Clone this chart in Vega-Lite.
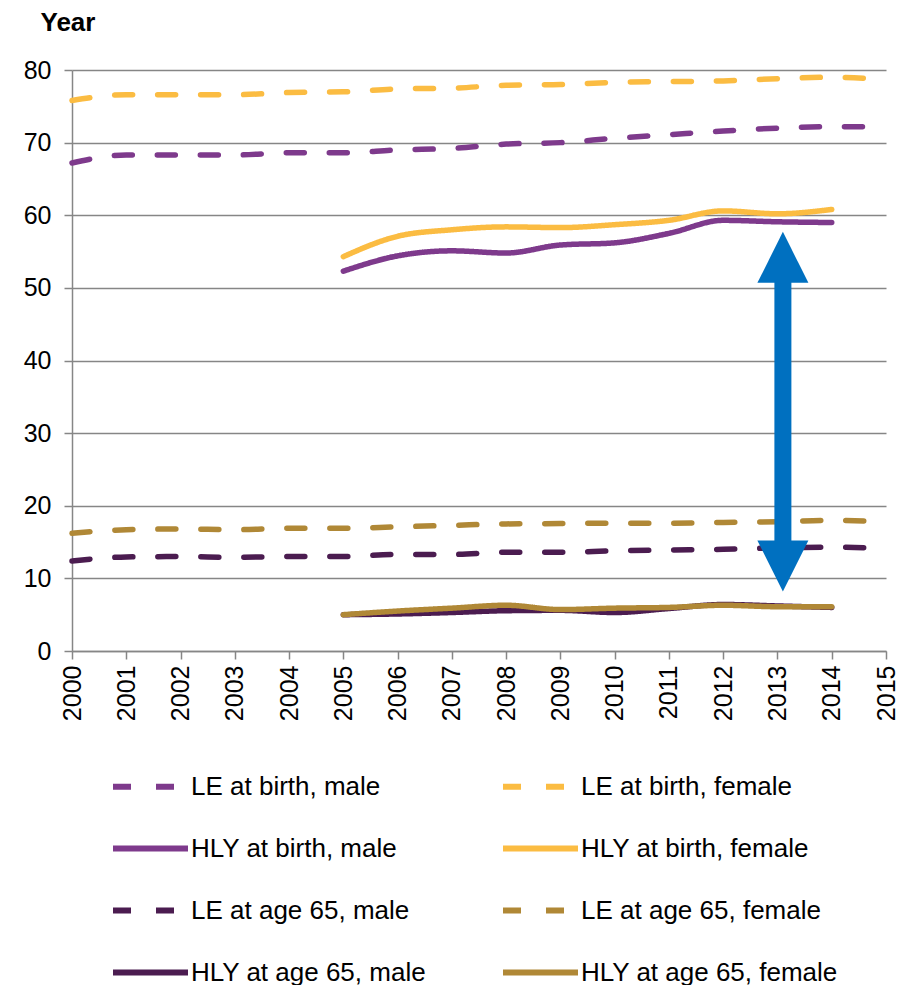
{
  "$schema": "https://vega.github.io/schema/vega-lite/v6.json",
  "width": 814,
  "height": 581,
  "autosize": "none",
  "padding": {"left": 72, "top": 70, "right": 14, "bottom": 334},
  "background": "white",
  "config": {"view": {"stroke": null}, "font": "Liberation Sans"},
  "datasets": {
    "series": [
      {"s": "LE at birth, male", "year": 2000, "v": 67.2},
      {"s": "LE at birth, male", "year": 2001, "v": 68.3},
      {"s": "LE at birth, male", "year": 2002, "v": 68.3},
      {"s": "LE at birth, male", "year": 2003, "v": 68.3},
      {"s": "LE at birth, male", "year": 2004, "v": 68.6},
      {"s": "LE at birth, male", "year": 2005, "v": 68.6},
      {"s": "LE at birth, male", "year": 2006, "v": 69.0},
      {"s": "LE at birth, male", "year": 2007, "v": 69.2},
      {"s": "LE at birth, male", "year": 2008, "v": 69.8},
      {"s": "LE at birth, male", "year": 2009, "v": 70.0},
      {"s": "LE at birth, male", "year": 2010, "v": 70.6},
      {"s": "LE at birth, male", "year": 2011, "v": 71.1},
      {"s": "LE at birth, male", "year": 2012, "v": 71.6},
      {"s": "LE at birth, male", "year": 2013, "v": 72.0},
      {"s": "LE at birth, male", "year": 2014, "v": 72.2},
      {"s": "LE at birth, male", "year": 2015, "v": 72.2},
      {"s": "LE at birth, female", "year": 2000, "v": 75.8},
      {"s": "LE at birth, female", "year": 2001, "v": 76.6},
      {"s": "LE at birth, female", "year": 2002, "v": 76.6},
      {"s": "LE at birth, female", "year": 2003, "v": 76.6},
      {"s": "LE at birth, female", "year": 2004, "v": 76.9},
      {"s": "LE at birth, female", "year": 2005, "v": 77.0},
      {"s": "LE at birth, female", "year": 2006, "v": 77.4},
      {"s": "LE at birth, female", "year": 2007, "v": 77.5},
      {"s": "LE at birth, female", "year": 2008, "v": 77.9},
      {"s": "LE at birth, female", "year": 2009, "v": 78.0},
      {"s": "LE at birth, female", "year": 2010, "v": 78.3},
      {"s": "LE at birth, female", "year": 2011, "v": 78.4},
      {"s": "LE at birth, female", "year": 2012, "v": 78.5},
      {"s": "LE at birth, female", "year": 2013, "v": 78.8},
      {"s": "LE at birth, female", "year": 2014, "v": 79.0},
      {"s": "LE at birth, female", "year": 2015, "v": 78.7},
      {"s": "HLY at birth, male", "year": 2005, "v": 52.3},
      {"s": "HLY at birth, male", "year": 2006, "v": 54.4},
      {"s": "HLY at birth, male", "year": 2007, "v": 55.1},
      {"s": "HLY at birth, male", "year": 2008, "v": 54.8},
      {"s": "HLY at birth, male", "year": 2009, "v": 55.9},
      {"s": "HLY at birth, male", "year": 2010, "v": 56.2},
      {"s": "HLY at birth, male", "year": 2011, "v": 57.5},
      {"s": "HLY at birth, male", "year": 2012, "v": 59.3},
      {"s": "HLY at birth, male", "year": 2013, "v": 59.1},
      {"s": "HLY at birth, male", "year": 2014, "v": 59.0},
      {"s": "HLY at birth, female", "year": 2005, "v": 54.3},
      {"s": "HLY at birth, female", "year": 2006, "v": 57.1},
      {"s": "HLY at birth, female", "year": 2007, "v": 58.0},
      {"s": "HLY at birth, female", "year": 2008, "v": 58.4},
      {"s": "HLY at birth, female", "year": 2009, "v": 58.3},
      {"s": "HLY at birth, female", "year": 2010, "v": 58.7},
      {"s": "HLY at birth, female", "year": 2011, "v": 59.3},
      {"s": "HLY at birth, female", "year": 2012, "v": 60.6},
      {"s": "HLY at birth, female", "year": 2013, "v": 60.2},
      {"s": "HLY at birth, female", "year": 2014, "v": 60.8},
      {"s": "LE at age 65, male", "year": 2000, "v": 12.4},
      {"s": "LE at age 65, male", "year": 2001, "v": 12.95},
      {"s": "LE at age 65, male", "year": 2002, "v": 13.0},
      {"s": "LE at age 65, male", "year": 2003, "v": 12.9},
      {"s": "LE at age 65, male", "year": 2004, "v": 13.0},
      {"s": "LE at age 65, male", "year": 2005, "v": 13.0},
      {"s": "LE at age 65, male", "year": 2006, "v": 13.3},
      {"s": "LE at age 65, male", "year": 2007, "v": 13.3},
      {"s": "LE at age 65, male", "year": 2008, "v": 13.6},
      {"s": "LE at age 65, male", "year": 2009, "v": 13.6},
      {"s": "LE at age 65, male", "year": 2010, "v": 13.8},
      {"s": "LE at age 65, male", "year": 2011, "v": 13.9},
      {"s": "LE at age 65, male", "year": 2012, "v": 14.0},
      {"s": "LE at age 65, male", "year": 2013, "v": 14.2},
      {"s": "LE at age 65, male", "year": 2014, "v": 14.3},
      {"s": "LE at age 65, male", "year": 2015, "v": 14.1},
      {"s": "LE at age 65, female", "year": 2000, "v": 16.2},
      {"s": "LE at age 65, female", "year": 2001, "v": 16.7},
      {"s": "LE at age 65, female", "year": 2002, "v": 16.8},
      {"s": "LE at age 65, female", "year": 2003, "v": 16.7},
      {"s": "LE at age 65, female", "year": 2004, "v": 16.9},
      {"s": "LE at age 65, female", "year": 2005, "v": 16.9},
      {"s": "LE at age 65, female", "year": 2006, "v": 17.1},
      {"s": "LE at age 65, female", "year": 2007, "v": 17.3},
      {"s": "LE at age 65, female", "year": 2008, "v": 17.5},
      {"s": "LE at age 65, female", "year": 2009, "v": 17.55},
      {"s": "LE at age 65, female", "year": 2010, "v": 17.6},
      {"s": "LE at age 65, female", "year": 2011, "v": 17.6},
      {"s": "LE at age 65, female", "year": 2012, "v": 17.7},
      {"s": "LE at age 65, female", "year": 2013, "v": 17.8},
      {"s": "LE at age 65, female", "year": 2014, "v": 18.0},
      {"s": "LE at age 65, female", "year": 2015, "v": 17.8},
      {"s": "HLY at age 65, male", "year": 2005, "v": 5.0},
      {"s": "HLY at age 65, male", "year": 2006, "v": 5.1},
      {"s": "HLY at age 65, male", "year": 2007, "v": 5.3},
      {"s": "HLY at age 65, male", "year": 2008, "v": 5.55},
      {"s": "HLY at age 65, male", "year": 2009, "v": 5.6},
      {"s": "HLY at age 65, male", "year": 2010, "v": 5.3},
      {"s": "HLY at age 65, male", "year": 2011, "v": 5.85},
      {"s": "HLY at age 65, male", "year": 2012, "v": 6.4},
      {"s": "HLY at age 65, male", "year": 2013, "v": 6.2},
      {"s": "HLY at age 65, male", "year": 2014, "v": 6.0},
      {"s": "HLY at age 65, female", "year": 2005, "v": 5.0},
      {"s": "HLY at age 65, female", "year": 2006, "v": 5.5},
      {"s": "HLY at age 65, female", "year": 2007, "v": 5.9},
      {"s": "HLY at age 65, female", "year": 2008, "v": 6.3},
      {"s": "HLY at age 65, female", "year": 2009, "v": 5.7},
      {"s": "HLY at age 65, female", "year": 2010, "v": 5.9},
      {"s": "HLY at age 65, female", "year": 2011, "v": 6.0},
      {"s": "HLY at age 65, female", "year": 2012, "v": 6.3},
      {"s": "HLY at age 65, female", "year": 2013, "v": 6.1},
      {"s": "HLY at age 65, female", "year": 2014, "v": 6.1}
    ],
    "arrowShaft": [{"x": 2013.1, "y": 51, "y2": 15}],
    "arrowUp": [{"x": 2013.1, "y": 54.2}],
    "arrowDown": [{"x": 2013.1, "y": 11.7}]
  },
  "layer": [
    {
      "data": {"name": "series"},
      "mark": {"type": "line", "interpolate": "monotone", "strokeWidth": 5.5, "strokeCap": "round"},
      "encoding": {
        "x": {
          "field": "year", "type": "quantitative",
          "scale": {"domain": [2000, 2015], "nice": false, "zero": false},
          "axis": {
            "title": null, "grid": false,
            "values": [2000, 2001, 2002, 2003, 2004, 2005, 2006, 2007, 2008, 2009, 2010, 2011, 2012, 2013, 2014, 2015],
            "format": "d", "labelAngle": -90, "labelFontSize": 25, "labelColor": "#000000",
            "labelFlush": false, "labelOverlap": false, "labelPadding": 6,
            "tickColor": "#868686", "tickWidth": 1.5, "tickSize": 8,
            "domainColor": "#868686", "domainWidth": 1.5
          }
        },
        "y": {
          "field": "v", "type": "quantitative",
          "scale": {"domain": [0, 80], "nice": false},
          "axis": {
            "title": "Year", "titleAngle": 0, "titleAlign": "left", "titleBaseline": "alphabetic",
            "titleX": -32, "titleY": -40, "titleFontSize": 26, "titleFontWeight": "bold", "titleColor": "#000000",
            "values": [0, 10, 20, 30, 40, 50, 60, 70, 80],
            "labelFontSize": 25, "labelColor": "#000000", "labelPadding": 13, "labelFlush": false,
            "grid": true, "gridColor": "#868686", "gridWidth": 1.5,
            "tickColor": "#868686", "tickWidth": 1.5, "tickSize": 8,
            "domainColor": "#868686", "domainWidth": 1.5
          }
        },
        "color": {
          "field": "s", "type": "nominal",
          "scale": {
            "domain": ["LE at birth, male", "LE at birth, female", "HLY at birth, male", "HLY at birth, female", "LE at age 65, male", "LE at age 65, female", "HLY at age 65, male", "HLY at age 65, female"],
            "range": ["#7E3A8C", "#FBBC42", "#7E3A8C", "#FBBC42", "#4B1C50", "#B08836", "#4B1C50", "#B08836"]
          },
          "legend": {
            "title": null, "orient": "none", "legendX": 38, "legendY": 676, "direction": "horizontal", "columns": 2,
            "columnPadding": 64, "rowPadding": 8, "padding": 0,
            "symbolType": "stroke", "symbolSize": 5625, "symbolStrokeWidth": 6,
            "labelFontSize": 26, "labelColor": "#000000", "labelOffset": 0, "labelLimit": 400
          }
        },
        "strokeDash": {
          "field": "s", "type": "nominal",
          "scale": {
            "domain": ["LE at birth, male", "LE at birth, female", "HLY at birth, male", "HLY at birth, female", "LE at age 65, male", "LE at age 65, female", "HLY at age 65, male", "HLY at age 65, female"],
            "range": [[18, 25], [18, 25], [1, 0], [1, 0], [18, 25], [18, 25], [1, 0], [1, 0]]
          },
          "legend": {
            "title": null, "orient": "none", "legendX": 38, "legendY": 676, "direction": "horizontal", "columns": 2,
            "columnPadding": 64, "rowPadding": 8, "padding": 0,
            "symbolType": "stroke", "symbolSize": 5625, "symbolStrokeWidth": 6,
            "labelFontSize": 26, "labelColor": "#000000", "labelOffset": 0, "labelLimit": 400
          }
        }
      }
    },
    {
      "data": {"name": "arrowShaft"},
      "mark": {"type": "rule", "color": "#0070C0", "strokeWidth": 17, "strokeCap": "butt"},
      "encoding": {
        "x": {"field": "x", "type": "quantitative"},
        "y": {"field": "y", "type": "quantitative"},
        "y2": {"field": "y2"}
      }
    },
    {
      "data": {"name": "arrowUp"},
      "mark": {"type": "point", "shape": "M0,-1L1,1L-1,1Z", "size": 2601, "filled": true, "color": "#0070C0", "opacity": 1, "strokeWidth": 0},
      "encoding": {
        "x": {"field": "x", "type": "quantitative"},
        "y": {"field": "y", "type": "quantitative"}
      }
    },
    {
      "data": {"name": "arrowDown"},
      "mark": {"type": "point", "shape": "M0,1L1,-1L-1,-1Z", "size": 2601, "filled": true, "color": "#0070C0", "opacity": 1, "strokeWidth": 0},
      "encoding": {
        "x": {"field": "x", "type": "quantitative"},
        "y": {"field": "y", "type": "quantitative"}
      }
    }
  ]
}
